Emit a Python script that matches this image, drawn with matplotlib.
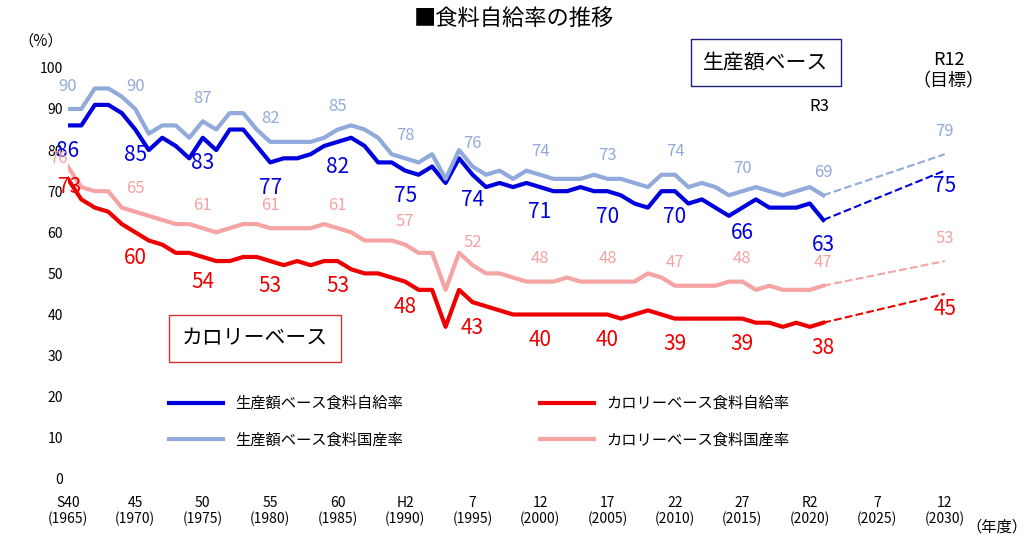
import numpy as np
import matplotlib.pyplot as plt

plt.rcParams['font.family'] = ['Noto Sans CJK JP', 'DejaVu Sans']

years = list(range(1965, 2022))
prod_self = [86, 86, 91, 91, 89, 85, 80, 83, 81, 78, 83, 80, 85, 85, 81, 77, 78, 78, 79, 81,
             82, 83, 81, 77, 77, 75, 74, 76, 72, 78, 74, 71, 72, 71, 72, 71, 70, 70, 71, 70,
             70, 69, 67, 66, 70, 70, 67, 68, 66, 64, 66, 68, 66, 66, 66, 67, 63]
prod_dom = [90, 90, 95, 95, 93, 90, 84, 86, 86, 83, 87, 85, 89, 89, 85, 82, 82, 82, 82, 83,
            85, 86, 85, 83, 79, 78, 77, 79, 73, 80, 76, 74, 75, 73, 75, 74, 73, 73, 73, 74,
            73, 73, 72, 71, 74, 74, 71, 72, 71, 69, 70, 71, 70, 69, 70, 71, 69]
cal_self = [73, 68, 66, 65, 62, 60, 58, 57, 55, 55, 54, 53, 53, 54, 54, 53, 52, 53, 52, 53,
            53, 51, 50, 50, 49, 48, 46, 46, 37, 46, 43, 42, 41, 40, 40, 40, 40, 40, 40, 40,
            40, 39, 40, 41, 40, 39, 39, 39, 39, 39, 39, 38, 38, 37, 38, 37, 38]
cal_dom = [76, 71, 70, 70, 66, 65, 64, 63, 62, 62, 61, 60, 61, 62, 62, 61, 61, 61, 61, 62,
           61, 60, 58, 58, 58, 57, 55, 55, 46, 55, 52, 50, 50, 49, 48, 48, 48, 49, 48, 48,
           48, 48, 48, 50, 49, 47, 47, 47, 47, 48, 48, 46, 47, 46, 46, 46, 47]
targets = {'prod_self': 75, 'prod_dom': 79, 'cal_self': 45, 'cal_dom': 53}

label_years = list(range(1965, 2020, 5)) + [2021]
tick_years = list(range(1965, 2031, 5))
tick_labels = ['S40\n(1965)', '45\n(1970)', '50\n(1975)', '55\n(1980)', '60\n(1985)', 'H2\n(1990)',
               '7\n(1995)', '12\n(2000)', '17\n(2005)', '22\n(2010)', '27\n(2015)', 'R2\n(2020)',
               '7\n(2025)', '12\n(2030)']

c_ps, c_pd, c_cs, c_cd = '#0000DD', '#92AADB', '#EE0000', '#F5A3A3'

fig = plt.figure(figsize=(10.28, 5.43), dpi=100)
ax = fig.add_axes([0.066, 0.118, 0.853, 0.757])

series = [(prod_self, c_ps, '生産額ベース食料自給率', 'prod_self', -1, 15),
          (prod_dom, c_pd, '生産額ベース食料国産率', 'prod_dom', 1, 12),
          (cal_self, c_cs, 'カロリーベース食料自給率', 'cal_self', -1, 15),
          (cal_dom, c_cd, 'カロリーベース食料国産率', 'cal_dom', 1, 12)]
handles = []
for vals, col, lab, key, side, fs in series:
    h, = ax.plot(years, vals, color=col, lw=3, label=lab)
    handles.append(h)
    ax.plot([2021, 2030], [vals[-1], targets[key]], color=col, lw=1.5, ls='--')
    for y in label_years:
        v = vals[y - 1965]
        x, yy, va = y, v + side * 3.5, 'bottom' if side > 0 else 'top'
        if y == 1965 and key == 'cal_dom':
            x, yy, va = 1964.3, v + 2, 'center'
        elif y == 1965 and key == 'cal_self':
            x, yy, va = 1965.1, v - 2, 'center'
        ax.text(x, yy, str(v), color=col, fontsize=fs, ha='center', va=va)
    ax.text(2030, targets[key] + (side * 3.5 if side > 0 else -1), str(targets[key]), color=col,
            fontsize=fs, ha='center', va='bottom' if side > 0 else 'top')

ax.set_xlim(1965, 2030)
ax.set_ylim(0, 100)
ax.set_yticks(range(0, 101, 10))
ax.set_xticks(tick_years)
ax.set_xticklabels(tick_labels, fontsize=10)
ax.tick_params(length=0, labelsize=10)
ax.tick_params(axis='x', pad=12)
for s in ax.spines.values():
    s.set_visible(False)

ax.legend(handles=handles, ncol=2, loc='lower left', bbox_to_anchor=(0.1, 0.04), frameon=False,
          fontsize=11, columnspacing=9, handlelength=3.5, labelspacing=1.3)

fig.text(0.5, 0.965, '■食料自給率の推移', fontsize=16, ha='center', va='center')
fig.text(0.04, 0.925, '（%）', fontsize=11, ha='center', va='center')
fig.text(0.97, 0.03, '（年度）', fontsize=11, ha='center', va='center')
fig.text(0.745, 0.885, '生産額ベース', fontsize=15, ha='center', va='center',
         bbox=dict(boxstyle='square,pad=0.6', fc='white', ec='#202080', lw=1))
fig.text(0.248, 0.377, 'カロリーベース', fontsize=15, ha='center', va='center',
         bbox=dict(boxstyle='square,pad=0.6', fc='white', ec='#CC3333', lw=1))
fig.text(0.923, 0.87, 'R12\n（目標）', fontsize=13, ha='center', va='center', linespacing=1.2)
fig.text(0.797, 0.803, 'R3', fontsize=12, ha='center', va='center')

fig.savefig('out.png', dpi=100)
